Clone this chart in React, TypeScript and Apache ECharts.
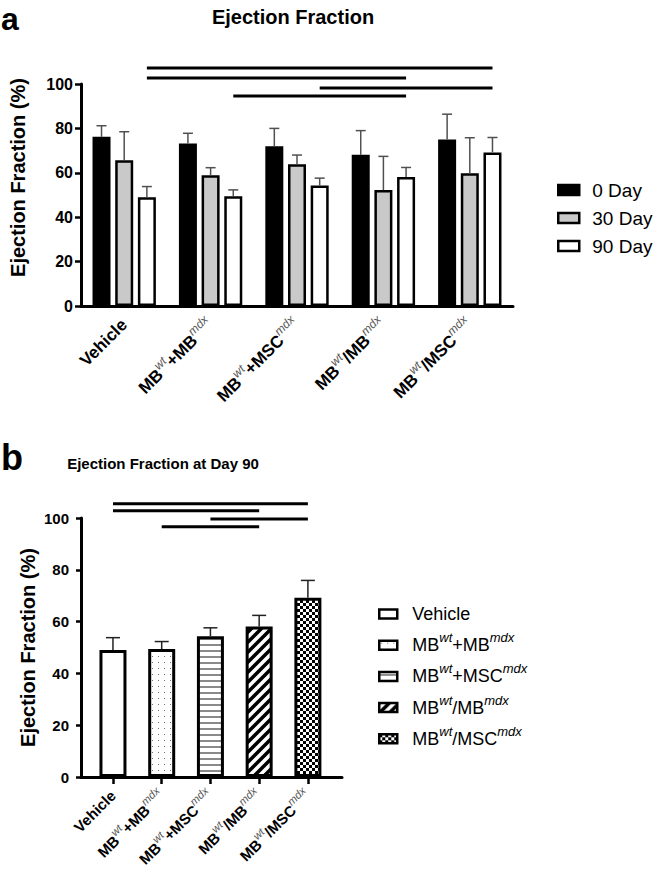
import React, { useEffect, useRef } from 'react';
import * as echarts from 'echarts';

// ---------- data ----------
const groups = ['Vehicle', 'MB^wt+MB^mdx', 'MB^wt+MSC^mdx', 'MB^wt/MB^mdx', 'MB^wt/MSC^mdx'];
const timepoints = ['0 Day', '30 Day', '90 Day'];
const day0Mean = [76.2, 73.2, 72.0, 68.1, 75.0];
const day0Sd = [5.0, 4.6, 8.0, 10.9, 11.4];
const day30Mean = [65.7, 58.9, 63.9, 52.2, 59.8];
const day30Sd = [12.8, 3.4, 4.1, 15.2, 16.0];
const day90Mean = [49.0, 49.4, 54.3, 58.1, 69.2];
const day90Sd = [4.8, 2.9, 3.3, 4.3, 6.7];
const yTicks = [0, 20, 40, 60, 80, 100];
const sigPairs = [[0, 4], [0, 3], [2, 4], [1, 3]];
const sigLevelsA = [107.2, 102.7, 98.2, 94.6];
const sigLevelsB = [105.5, 102.8, 99.6, 96.6];
const groupPatterns = ['plain', 'dots', 'hlines', 'diag', 'check'];

const FONT = '"Liberation Sans", Arial, Helvetica, sans-serif';

function toRich(name: string, base: string, sup: string) {
  return name
    .split(/(\^[a-z]+)/)
    .filter(Boolean)
    .map((p) => (p[0] === '^' ? `{${sup}|${p.slice(1)}}` : `{${base}|${p}}`))
    .join('');
}

function makePattern(kind: string): any {
  if (kind === 'plain') return '#ffffff';
  const c = document.createElement('canvas');
  let w = 6, h = 6;
  if (kind === 'diag') { w = 10; h = 10; }
  c.width = w; c.height = h;
  const ctx = c.getContext('2d')!;
  ctx.fillStyle = '#ffffff';
  ctx.fillRect(0, 0, w, h);
  if (kind === 'dots') {
    ctx.fillStyle = '#6f6f6f';
    ctx.fillRect(2, 2, 1, 1);
  } else if (kind === 'hlines') {
    ctx.fillStyle = '#8a8a8a';
    ctx.fillRect(0, 2, w, 2);
  } else if (kind === 'diag') {
    ctx.strokeStyle = '#000000';
    ctx.lineWidth = 3.5;
    ctx.beginPath();
    ctx.moveTo(-2, 12); ctx.lineTo(12, -2);
    ctx.moveTo(-3, 3); ctx.lineTo(3, -3);
    ctx.moveTo(7, 13); ctx.lineTo(13, 7);
    ctx.stroke();
  } else if (kind === 'check') {
    ctx.fillStyle = '#000000';
    ctx.fillRect(0, 0, 3, 3);
    ctx.fillRect(3, 3, 3, 3);
  }
  return { image: c, repeat: 'repeat', imageWidth: w, imageHeight: h };
}

export default function App() {
  const ref = useRef<HTMLDivElement>(null);

  useEffect(() => {
    if (!ref.current) return;
    const chart = echarts.init(ref.current, null, { renderer: 'svg' });

    const BAR_A = 18;
    const GAP_A = 0.26;
    const slotA = BAR_A * (1 + GAP_A);
    const meansA = [day0Mean, day30Mean, day90Mean];
    const sdsA = [day0Sd, day30Sd, day90Sd];
    const colorsA = ['#000000', '#c9c9c9', '#ffffff'];
    const idx = groups.map((_, i) => i);

    const axisLine = { show: true, onZero: false, lineStyle: { color: '#000', width: 3 } };
    const tickStyle = { color: '#000', width: 2.5 };

    const errRender = (offset: number, cap: number, color: string) => (params: any, api: any) => {
      const cat = api.value(0), mean = api.value(1), sd = api.value(2), slot = api.value(3);
      const b = api.coord([cat, mean]);
      const t = api.coord([cat, mean + sd]);
      const x = b[0] + slot * offset;
      const style = { stroke: color, lineWidth: 1.5 };
      return {
        type: 'group',
        children: [
          { type: 'line', shape: { x1: x, y1: b[1], x2: x, y2: t[1] }, style },
          { type: 'line', shape: { x1: x - cap / 2, y1: t[1], x2: x + cap / 2, y2: t[1] }, style },
        ],
      };
    };
    const sigRender = (offset: number) => (params: any, api: any) => {
      const a = api.coord([api.value(0), api.value(2)]);
      const b = api.coord([api.value(1), api.value(2)]);
      const s = api.value(3) * offset;
      return {
        type: 'line',
        shape: { x1: a[0] + s, y1: a[1], x2: b[0] + s, y2: a[1] },
        style: { stroke: '#000', lineWidth: 3 },
      };
    };

    const yAxisBase = {
      type: 'value',
      min: yTicks[0],
      max: yTicks[yTicks.length - 1],
      interval: yTicks[1] - yTicks[0],
      splitLine: { show: false },
      axisLine,
      axisTick: { show: true, length: 6, lineStyle: tickStyle },
      name: 'Ejection Fraction (%)',
      nameLocation: 'middle',
    };

    const option: any = {
      animation: false,
      backgroundColor: '#ffffff',
      textStyle: { fontFamily: FONT },
      grid: [
        { left: 71, top: 84, width: 442, height: 222 },
        { left: 81, top: 518, width: 261, height: 259 },
      ],
      xAxis: [
        {
          type: 'category',
          gridIndex: 0,
          data: groups,
          axisLine,
          axisTick: { alignWithLabel: true, length: 7, lineStyle: tickStyle },
          axisLabel: {
            interval: 0,
            rotate: 45,
            margin: 16,
            formatter: (v: string) => toRich(v, 'b', 's'),
            rich: {
              b: { fontSize: 17, fontWeight: 'bold', color: '#000', fontFamily: FONT },
              s: { fontSize: 12, fontStyle: 'italic', color: '#555', fontFamily: FONT, padding: [0, 0, 13, 0] },
            },
          },
        },
        {
          type: 'value',
          gridIndex: 1,
          min: -0.656,
          max: 4.7,
          splitLine: { show: false },
          axisLine,
          axisTick: { show: true, customValues: idx, length: 7, lineStyle: tickStyle },
          axisLabel: {
            customValues: idx,
            rotate: 45,
            margin: 16,
            formatter: (v: number) => toRich(groups[Math.round(v)] ?? '', 'b', 's'),
            rich: {
              b: { fontSize: 15, fontWeight: 'bold', color: '#000', fontFamily: FONT },
              s: { fontSize: 11, fontStyle: 'italic', color: '#555', fontFamily: FONT, padding: [0, 0, 12, 0] },
            },
          },
        },
      ],
      yAxis: [
        {
          ...yAxisBase,
          gridIndex: 0,
          nameGap: 53,
          nameTextStyle: { fontSize: 20, fontWeight: 'bold', color: '#000', fontFamily: FONT, padding: [0, 0, 0, 35] },
          axisLabel: { fontSize: 16, fontWeight: 'bold', color: '#000', margin: 8, fontFamily: FONT },
        },
        {
          ...yAxisBase,
          gridIndex: 1,
          nameGap: 43,
          nameTextStyle: { fontSize: 20, fontWeight: 'bold', color: '#000', fontFamily: FONT },
          axisTick: { show: true, length: 5, lineStyle: tickStyle },
          axisLabel: { fontSize: 15, fontWeight: 'bold', color: '#000', margin: 12, fontFamily: FONT },
        },
      ],
      legend: [
        {
          data: timepoints,
          orient: 'vertical',
          left: 552,
          top: 175,
          itemWidth: 21,
          itemHeight: 10,
          itemGap: 8,
          icon: 'rect',
          itemStyle: { borderColor: '#000', borderWidth: 2.5 },
          textStyle: { fontSize: 19, color: '#000', fontFamily: FONT, lineHeight: 20, padding: [0, 0, 0, 8] },
        },
        {
          data: groups,
          orient: 'vertical',
          left: 373,
          top: 600,
          itemWidth: 18,
          itemHeight: 9,
          itemGap: 8.2,
          icon: 'rect',
          itemStyle: { borderColor: '#000', borderWidth: 2.5 },
          formatter: (n: string) => toRich(n, 'n', 's'),
          textStyle: {
            padding: [0, 0, 0, 10],
            rich: {
              n: { fontSize: 18, color: '#000', fontFamily: FONT },
              s: { fontSize: 13, fontStyle: 'italic', color: '#000', fontFamily: FONT, padding: [0, 0, 15, 0] },
            },
          },
        },
      ],
      graphic: [
        { type: 'text', x: 1, y: 19, style: { text: 'a', fill: '#000', font: `bold 32px ${FONT}`, verticalAlign: 'middle' } },
        { type: 'text', x: 293, y: 17, style: { text: 'Ejection Fraction', fill: '#000', font: `bold 20px ${FONT}`, align: 'center', verticalAlign: 'middle' } },
        { type: 'text', x: 1, y: 457, style: { text: 'b', fill: '#000', font: `bold 36px ${FONT}`, verticalAlign: 'middle' } },
        { type: 'text', x: 163, y: 463, style: { text: 'Ejection Fraction at Day 90', fill: '#000', font: `bold 15px ${FONT}`, align: 'center', verticalAlign: 'middle' } },
      ],
      series: [
        ...timepoints.map((tp, s) => ({
          type: 'bar',
          name: tp,
          xAxisIndex: 0,
          yAxisIndex: 0,
          barWidth: BAR_A,
          barGap: `${GAP_A * 100}%`,
          data: meansA[s],
          itemStyle: { color: colorsA[s], borderColor: '#000', borderWidth: 2.5 },
        })),
        {
          type: 'custom',
          name: 'errA',
          xAxisIndex: 0,
          yAxisIndex: 0,
          clip: false,
          encode: { x: 0, y: 1 },
          renderItem: errRender(slotA, 10, '#505050'),
          data: meansA.flatMap((m, s) => m.map((v, i) => [i, v, sdsA[s][i], s - 1])),
          z: 5,
        },
        {
          type: 'custom',
          name: 'sigA',
          xAxisIndex: 0,
          yAxisIndex: 0,
          clip: false,
          encode: { x: [0, 1], y: 2 },
          renderItem: sigRender(slotA),
          data: sigPairs.map(([a, b], k) => [a, b, sigLevelsA[k], 1]),
          z: 5,
        },
        ...groups.map((g, i) => ({
          type: 'bar',
          name: g,
          xAxisIndex: 1,
          yAxisIndex: 1,
          barWidth: 27,
          barGap: '-100%',
          data: [[i, day90Mean[i]]],
          itemStyle: { color: makePattern(groupPatterns[i]), borderColor: '#000', borderWidth: 3 },
        })),
        {
          type: 'custom',
          name: 'errB',
          xAxisIndex: 1,
          yAxisIndex: 1,
          clip: false,
          encode: { x: 0, y: 1 },
          renderItem: errRender(0, 14, '#222222'),
          data: day90Mean.map((v, i) => [i, v, day90Sd[i], 0]),
          z: 5,
        },
        {
          type: 'custom',
          name: 'sigB',
          xAxisIndex: 1,
          yAxisIndex: 1,
          clip: false,
          encode: { x: [0, 1], y: 2 },
          renderItem: sigRender(0),
          data: sigPairs.map(([a, b], k) => [a, b, sigLevelsB[k], 0]),
          z: 5,
        },
      ],
    };

    chart.setOption(option);
    return () => chart.dispose();
  }, []);

  return (
    <div
      ref={ref}
      style={{ position: 'absolute', left: 0, top: 0, width: 657, height: 874, background: '#fff' }}
    />
  );
}
